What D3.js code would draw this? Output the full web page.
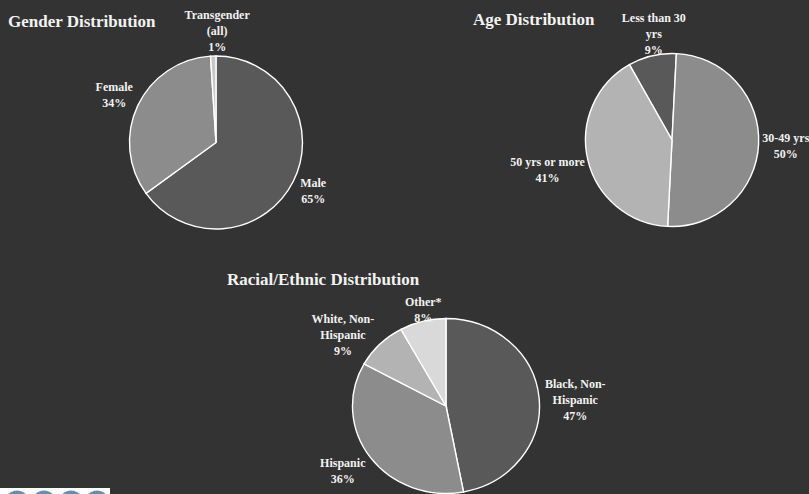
<!DOCTYPE html>
<html><head><meta charset="utf-8">
<script src="https://cdn.jsdelivr.net/npm/d3@7"></script>
<style>
html,body{margin:0;padding:0;background:#333333;}
svg{display:block;}
</style></head>
<body>
<svg id="chart" width="809" height="494"></svg>
<script>
// ---- Data ----
const genderCategories = ["Male", "Female", "Transgender (all)"];
const genderValues = [65, 34, 1];
const genderLabels = [["Male","65%"], ["Female","34%"], ["Transgender","(all)","1%"]];

const ageCategories = ["Less than 30 yrs", "30-49 yrs", "50 yrs or more"];
const ageValues = [9, 50, 41];
const ageLabels = [["Less than 30","yrs","9%"], ["30-49 yrs","50%"], ["50 yrs or more","41%"]];

const raceCategories = ["Black, Non-Hispanic", "Hispanic", "White, Non-Hispanic", "Other*"];
const raceValues = [47, 36, 9, 8];
const raceLabels = [["Black, Non-","Hispanic","47%"], ["Hispanic","36%"], ["White, Non-","Hispanic","9%"], ["Other*","8%"]];

// ---- Layout / style ----
const charts = [
  {title:"Gender Distribution", titleX:8, titleY:27, cx:216, cy:142.5, rx:86.5, ry:86.5, start:0,
   values:genderValues, cats:genderCategories, labels:genderLabels,
   colors:["#595959","#8c8c8c","#c8c8c8"], nudge:[[5,0],[-3,-2],[5,3]]},
  {title:"Age Distribution", titleX:473, titleY:25, cx:672, cy:140, rx:86.5, ry:86.5, start:-29.5,
   values:ageValues, cats:ageCategories, labels:ageLabels,
   colors:["#595959","#8c8c8c","#b3b3b3"], nudge:[[10,5],[0,1],[0,5]]},
  {title:"Racial/Ethnic Distribution", titleX:227, titleY:285, cx:446, cy:406, rx:93.5, ry:87.5, start:0,
   values:raceValues, cats:raceCategories, labels:raceLabels,
   colors:["#595959","#8c8c8c","#b3b3b3","#d9d9d9"], nudge:[[2,5],[-6,2],[-12,11],[6,8]]}
];
const labelFont = "bold 12px 'Liberation Serif', 'Times New Roman', serif";
const lineH = 16;
const gap = 4;

const svg = d3.select("#chart");
const ctx = document.createElement("canvas").getContext("2d");
ctx.font = labelFont;

charts.forEach(ch => {
  svg.append("text")
    .attr("x", ch.titleX).attr("y", ch.titleY)
    .attr("fill", "#f2f2f2")
    .style("font", "bold 17px 'Liberation Serif', 'Times New Roman', serif")
    .text(ch.title);

  const pie = d3.pie().sort(null)
    .startAngle(ch.start * Math.PI/180)
    .endAngle(ch.start * Math.PI/180 + 2*Math.PI);
  const arcs = pie(ch.values);
  const arc = d3.arc().innerRadius(0).outerRadius(ch.ry);
  const sx = ch.rx / ch.ry;

  const g = svg.append("g").attr("transform", `translate(${ch.cx},${ch.cy})`);
  g.append("g").attr("transform", `scale(${sx},1)`)
    .selectAll("path").data(arcs).join("path")
    .attr("d", arc)
    .attr("fill", (d,i) => ch.colors[i])
    .attr("stroke", "#ffffff")
    .attr("stroke-width", 1.4)
    .attr("vector-effect", "non-scaling-stroke");

  arcs.forEach((d,i) => {
    const a = (d.startAngle + d.endAngle)/2;
    const s = Math.sin(a), c = Math.cos(a);
    const lines = ch.labels[i];
    const w = d3.max(lines, t => ctx.measureText(t).width);
    const h = lines.length * lineH;
    const ax = (ch.rx + gap) * s, ay = -(ch.ry + gap) * c;
    const lx = ax + s * w/2 + ch.nudge[i][0];
    const ly = ay - c * h/2 + ch.nudge[i][1];
    const t = g.append("text")
      .attr("text-anchor", "middle")
      .attr("fill", "#f2f2f2")
      .style("font", labelFont);
    lines.forEach((ln, k) => {
      t.append("tspan")
        .attr("x", lx)
        .attr("y", ly - h/2 + lineH*k + 12)
        .text(ln);
    });
  });
});

// decorative logo strip at bottom-left
const logo = svg.append("g");
logo.append("rect").attr("x", 0).attr("y", 488).attr("width", 110).attr("height", 6).attr("fill", "#ffffff");
const logoClip = svg.append("clipPath").attr("id", "lc");
logoClip.append("rect").attr("x", 0).attr("y", 488).attr("width", 110).attr("height", 6);
logo.append("g").attr("clip-path", "url(#lc)")
  .selectAll("circle").data([17, 44, 71, 97]).join("circle")
  .attr("cx", d => d).attr("cy", 503).attr("r", 12.5).attr("fill", "#6690aa");
</script>
</body></html>
